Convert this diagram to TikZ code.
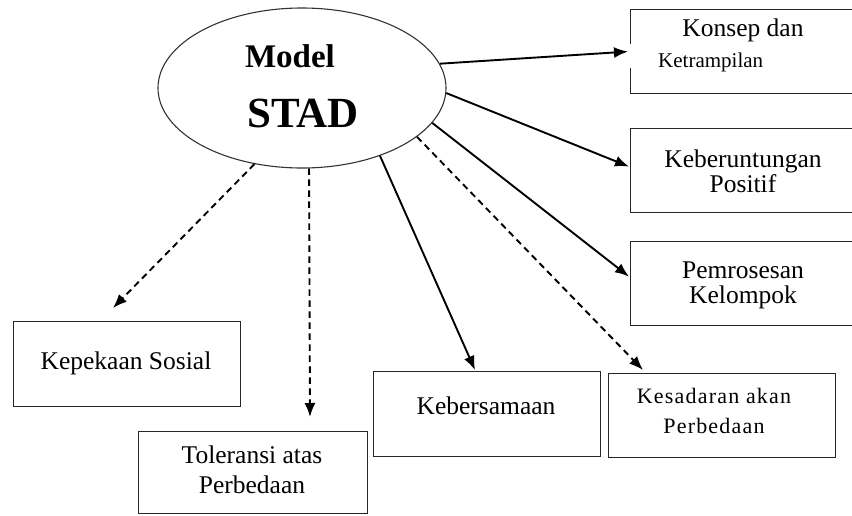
\documentclass[tikz,border=0pt]{standalone}
\usepackage{fontspec}
\setmainfont{Liberation Serif}
\usetikzlibrary{arrows.meta,shapes.geometric}
\begin{document}
\begin{tikzpicture}[x=1pt,y=-1pt,
  boxnode/.style={draw=black!85,line width=1.2pt,rectangle,inner sep=0pt,anchor=north west},
  lbl/.style={inner sep=0pt,anchor=base,font=\fontsize{25.5}{28}\selectfont},
  conn/.style={line width=1.9pt,-{Latex[length=14pt,width=11pt]}},
  dconn/.style={conn,dash pattern=on 6.5pt off 4.5pt}]
\clip (0,0) rectangle (852,515);
\fill[white] (0,0) rectangle (852,515);
% central ellipse
\node[draw=black!80,line width=1.1pt,ellipse,minimum width=288pt,minimum height=160pt,inner sep=0pt] (stad) at (302,88) {};
\node[inner sep=0pt,anchor=base,font=\fontsize{33}{36}\selectfont\bfseries] (tmodel) at (290,67) {Model};
\node[inner sep=0pt,anchor=base,font=\fontsize{43}{46}\selectfont\bfseries] (tstad) at (303,127) {STAD};
% boxes
\node[boxnode,minimum width=240pt,minimum height=84pt] (konsep) at (630,9) {};
\node[boxnode,minimum width=240pt,minimum height=84pt] (keber) at (630,128) {};
\node[boxnode,minimum width=240pt,minimum height=84pt] (pemro) at (630,241) {};
\node[boxnode,minimum width=227pt,minimum height=85pt] (kepek) at (13,321) {};
\node[boxnode,minimum width=229pt,minimum height=82pt] (toler) at (138,431) {};
\node[boxnode,minimum width=227pt,minimum height=85pt] (kebers) at (373,371) {};
\node[boxnode,minimum width=227pt,minimum height=84pt] (kesad) at (608,373) {};
% labels
\node[lbl] (tkonsep) at (743,36) {Konsep dan};
\node[inner sep=0pt,anchor=base west,font=\fontsize{21}{24}\selectfont] (tketr) at (658,67) {Ketrampilan};
\node[lbl] (tkeber1) at (743,167) {Keberuntungan};
\node[lbl] (tkeber2) at (743,192) {Positif};
\node[lbl] (tpemro1) at (743,278) {Pemrosesan};
\node[lbl] (tpemro2) at (743,303) {Kelompok};
\node[lbl] (tkepek) at (126,369) {Kepekaan Sosial};
\node[lbl] (ttoler1) at (252,463) {Toleransi atas};
\node[lbl] (ttoler2) at (252,493) {Perbedaan};
\node[lbl] (tkebers) at (486,414) {Kebersamaan};
\node[lbl,font=\fontsize{22}{26}\selectfont\addfontfeature{LetterSpace=5.5}] (tkesad1) at (714,403) {Kesadaran akan};
\node[lbl,font=\fontsize{22}{26}\selectfont\addfontfeature{LetterSpace=5.5}] (tkesad2) at (714,433) {Perbedaan};
% gap in the left border of the first box
\draw[white,line width=3pt] ([yshift=8pt]konsep.west) -- ([yshift=-16pt]konsep.west);
% connectors
\draw[conn] (stad.10) -- ([xshift=-2pt]konsep.west);
\draw[conn] (stad.-2) -- ([shift={(-1,-4)}]keber.west);
\draw[conn] (stad.-15) -- ([shift={(-1,-7)}]pemro.west);
\draw[dconn] (stad.-23) -- ([shift={(35,-3)}]kesad.north west);
\draw[conn] (stad.-41) -- ([shift={(102,-1)}]kebers.north west);
\draw[dconn] (stad.-85) -- ([shift={(172,-14)}]toler.north west);
\draw[dconn] (stad.-122) -- ([shift={(100,-13)}]kepek.north west);
\end{tikzpicture}
\end{document}
